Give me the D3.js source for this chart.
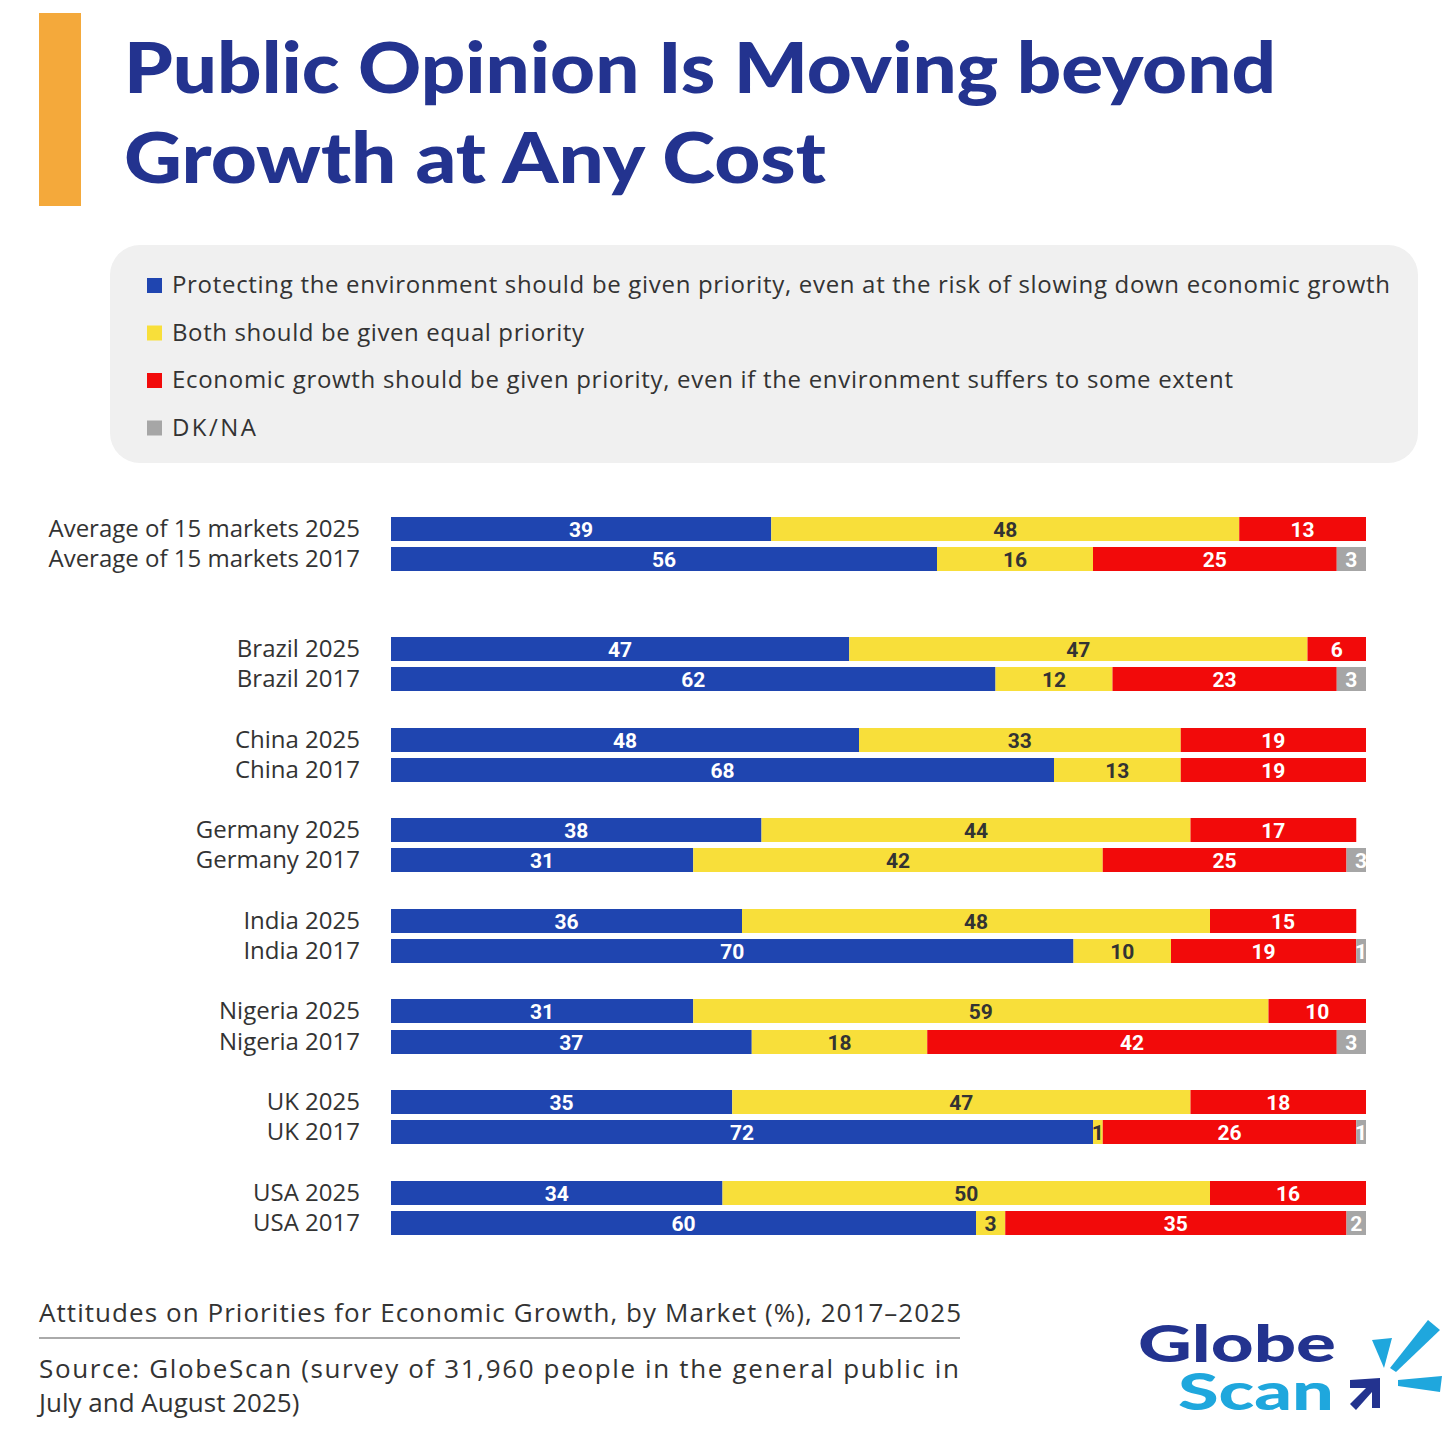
<!DOCTYPE html>
<html><head><meta charset="utf-8">
<script src="https://cdn.jsdelivr.net/npm/d3@7"></script>
<style>body{margin:0;background:#fff;font-family:"Open Sans",sans-serif}</style>
</head><body><svg id="c" width="1450" height="1452"></svg>
<script>
const rows = ["Average of 15 markets 2025","Average of 15 markets 2017","Brazil 2025","Brazil 2017","China 2025","China 2017","Germany 2025","Germany 2017","India 2025","India 2017","Nigeria 2025","Nigeria 2017","UK 2025","UK 2017","USA 2025","USA 2017"];
const environment = [39,56,47,62,48,68,38,31,36,70,31,37,35,72,34,60];
const both        = [48,16,47,12,33,13,44,42,48,10,59,18,47,1,50,3];
const economy     = [13,25,6,23,19,19,17,25,15,19,10,42,18,26,16,35];
const dkna        = [0,3,0,3,0,0,0,3,0,1,0,3,0,1,0,2];
const seriesNames = ["Protecting the environment should be given priority, even at the risk of slowing down economic growth","Both should be given equal priority","Economic growth should be given priority, even if the environment suffers to some extent","DK/NA"];
const legendWidths = [1218,412,1061,84];
const colors = ["#1f45b0","#f8df3a","#f20a0a","#a6a6a6"];
const labelColors = ["#fff","#333","#fff","#fff"];
const rowTops = [517,547,637,667,728,758,818,848,909,939,999,1030,1090,1120,1181,1211];

const svg = d3.select("#c");
const navy = "#23338f";
svg.append("rect").attr("x",39).attr("y",13).attr("width",42).attr("height",193).attr("fill","#f4a93b");
svg.append("text").attr("x",124).attr("y",93).attr("font-family","Lato").attr("font-weight",900).attr("font-size",70).attr("fill",navy).attr("textLength",1152).attr("lengthAdjust","spacingAndGlyphs").text("Public Opinion Is Moving beyond");
svg.append("text").attr("x",124).attr("y",183).attr("font-family","Lato").attr("font-weight",900).attr("font-size",70).attr("fill",navy).attr("textLength",702).attr("lengthAdjust","spacingAndGlyphs").text("Growth at Any Cost");

svg.append("rect").attr("x",110).attr("y",245).attr("width",1308).attr("height",218).attr("rx",30).attr("fill","#f0f0f0");
seriesNames.forEach((n,i)=>{
  const y = 286 + i*47.5;
  svg.append("rect").attr("x",147).attr("y",y-8).attr("width",15).attr("height",15).attr("fill",colors[i]);
  svg.append("text").attr("x",172).attr("y",y+7).attr("font-size",24).attr("fill","#333").attr("textLength",legendWidths[i]).text(n);
});

const x = d3.scaleLinear().domain([0,100]).range([391,1366]);
svg.append("clipPath").attr("id","clip").append("rect").attr("x",391).attr("y",500).attr("width",975).attr("height",760);
const g = svg.append("g").attr("clip-path","url(#clip)");
const bh = 24;
const series = [environment,both,economy,dkna];
rows.forEach((r,i)=>{
  const y = rowTops[i];
  svg.append("text").attr("x",360).attr("y",y+bh/2+8).attr("text-anchor","end").attr("font-size",24).attr("fill","#333").text(r);
  let acc = 0;
  series.forEach((s,k)=>{
    const v = s[i];
    if(!v) return;
    g.append("rect").attr("x",x(acc)).attr("y",y).attr("width",x(acc+v)-x(acc)).attr("height",bh).attr("fill",colors[k]);
    g.append("text").attr("x",(x(acc)+x(acc+v))/2).attr("y",y+bh/2+8).attr("text-anchor","middle")
      .attr("font-family","Roboto").attr("font-weight",700).attr("font-size",21).attr("fill",labelColors[k]).text(v);
    acc += v;
  });
});

svg.append("text").attr("x",39).attr("y",1322).attr("font-size",26).attr("fill","#333").attr("textLength",922).text("Attitudes on Priorities for Economic Growth, by Market (%), 2017–2025");
svg.append("line").attr("x1",39).attr("x2",960).attr("y1",1338).attr("y2",1338).attr("stroke","#aaa").attr("stroke-width",2);
svg.append("text").attr("x",39).attr("y",1378).attr("font-size",26).attr("fill","#333").attr("textLength",920).text("Source: GlobeScan (survey of 31,960 people in the general public in");
svg.append("text").attr("x",39).attr("y",1412).attr("font-size",26).attr("fill","#333").text("July and August 2025)");

svg.append("text").attr("x",1138).attr("y",1362).attr("font-family","Lato").attr("font-weight",900).attr("font-size",52).attr("fill",navy).attr("textLength",198).attr("lengthAdjust","spacingAndGlyphs").text("Globe");
svg.append("text").attr("x",1178).attr("y",1410).attr("font-family","Lato").attr("font-weight",900).attr("font-size",52).attr("fill","#1fa7dd").attr("textLength",156).attr("lengthAdjust","spacingAndGlyphs").text("Scan");
const lb = "#1fa7dd";
svg.append("polygon").attr("points","1372,1340 1392,1338 1384,1368").attr("fill",lb);
svg.append("polygon").attr("points","1428,1320 1440,1330 1396,1372 1390,1368").attr("fill",lb);
svg.append("polygon").attr("points","1398,1380 1442,1376 1440,1392 1398,1386").attr("fill",lb);
svg.append("polygon").attr("points","1350,1380 1380,1378 1380,1408 1372,1408 1372,1392 1356,1410 1350,1404 1366,1388 1350,1388").attr("fill",navy);
</script></body></html>
